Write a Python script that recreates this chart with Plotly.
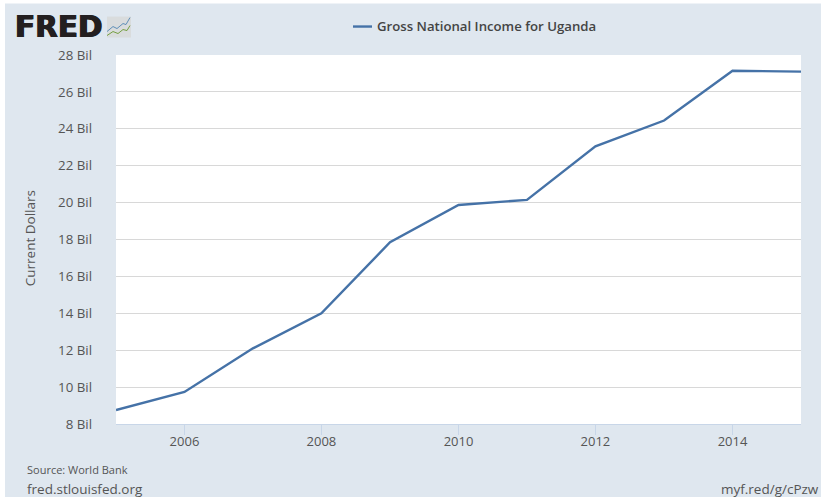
import plotly.graph_objects as go

years = ["2005-01-01", "2006-01-01", "2007-01-01", "2008-01-01", "2009-01-01", "2010-01-01",
         "2011-01-01", "2012-01-01", "2013-01-01", "2014-01-01", "2015-01-01"]
gni = [8.76, 9.74, 12.1, 14.0, 17.85, 19.87, 20.15, 23.05, 24.45, 27.15, 27.1]
y_ticks = list(range(8, 29, 2))
y_labels = [f"{v} Bil" for v in y_ticks]
x_ticks = ["2006-01-01", "2008-01-01", "2010-01-01", "2012-01-01", "2014-01-01"]
x_labels = ["2006", "2008", "2010", "2012", "2014"]
series_name = "Gross National Income for Uganda"

W, H = 821, 497
L, R, T, B = 116, 801, 54.5, 424
FONT = "Open Sans"
BG = "#dfe7ef"
LINE = "#4572a7"


def px(x):
    return (x - L) / (R - L)


def py(y):
    return (B - y) / (B - T)


fig = go.Figure(go.Scatter(x=years, y=gni, mode="lines", name=series_name,
                           line=dict(color=LINE, width=2.4), showlegend=False))

shapes = [
    dict(type="rect", xref="paper", yref="paper", x0=px(-2), x1=px(5), y0=py(-2), y1=py(H + 2),
         fillcolor="white", line_width=0),
    dict(type="rect", xref="paper", yref="paper", x0=px(-2), x1=px(W + 2), y0=py(-2), y1=py(3),
         fillcolor="white", line_width=0),
    dict(type="line", xref="paper", yref="paper", x0=px(353), x1=px(372), y0=py(26), y1=py(26),
         line=dict(color=LINE, width=2.4)),
    # logo icon
    dict(type="rect", xref="paper", yref="paper", x0=px(107), x1=px(131), y0=py(16), y1=py(37),
         fillcolor="#d9dcdd", line_width=0),
    dict(type="path", xref="paper", yref="paper",
         path=f"M {px(107)} {py(31)} L {px(113)} {py(26)} L {px(117)} {py(28)} L {px(123)} {py(23)} L {px(126)} {py(24)} L {px(130)} {py(17)}",
         line=dict(color="#5f8fb8", width=1)),
    dict(type="path", xref="paper", yref="paper",
         path=f"M {px(107)} {py(35)} L {px(113)} {py(31)} L {px(118)} {py(33)} L {px(123)} {py(29)} L {px(127)} {py(30)} L {px(130)} {py(25)}",
         line=dict(color="#76a043", width=1)),
]


def note(x, y, text, size, color="#555555", anchor="left", family=FONT, shadow=None, weight=None, **kw):
    f = dict(family=family, size=size, color=color)
    if shadow:
        f["shadow"] = shadow
    if weight:
        f["weight"] = weight
    return dict(xref="paper", yref="paper", x=px(x), y=py(y), text=text, showarrow=False,
                xanchor=anchor, yanchor="middle", font=f, **kw)


annotations = [
    note(375, 25, series_name, 13.2, "#444444", weight=600),
    note(13, 26, "<b>FRED</b>", 29.5, "#231f20", family="DejaVu Sans",
         shadow="0.7px 0 0 #231f20, -0.7px 0 0 #231f20"),
    note(25, 470, "Source: World Bank", 11, "#555555"),
    note(25, 489, "fred.stlouisfed.org", 13.5, "#555555"),
    note(719, 489, "myf.red/g/cPzw", 13.5, "#555555"),
    note(30, 238, "Current Dollars", 13.5, "#555555", anchor="center", textangle=-90),
]

fig.update_layout(
    width=W, height=H, autosize=False,
    margin=dict(l=L, r=W - R, t=T, b=H - B, pad=0),
    paper_bgcolor=BG, plot_bgcolor="white",
    shapes=shapes, annotations=annotations,
    font=dict(family=FONT, size=12, color="#555555"),
    xaxis=dict(type="date", range=[years[0], years[-1]], tickvals=x_ticks, ticktext=x_labels,
               ticks="outside", ticklen=10, tickwidth=1, tickcolor="#c8d6e8", showline=True,
               linecolor="#c8d6e8", linewidth=1, showgrid=False, zeroline=False,
               ticklabelstandoff=-5,
               tickfont=dict(family=FONT, size=13, color="#555555")),
    yaxis=dict(range=[8, 28], tickvals=y_ticks, ticktext=y_labels, ticks="", showgrid=True,
               gridcolor="#d8d8d8", gridwidth=1, showline=False, zeroline=False,
               ticklabelstandoff=23,
               tickfont=dict(family=FONT, size=13.3, color="#555555")),
)

fig.write_html("out.html", config=dict(displayModeBar=False),
               post_script="document.body.style.margin='0';document.body.style.overflow='hidden';")
